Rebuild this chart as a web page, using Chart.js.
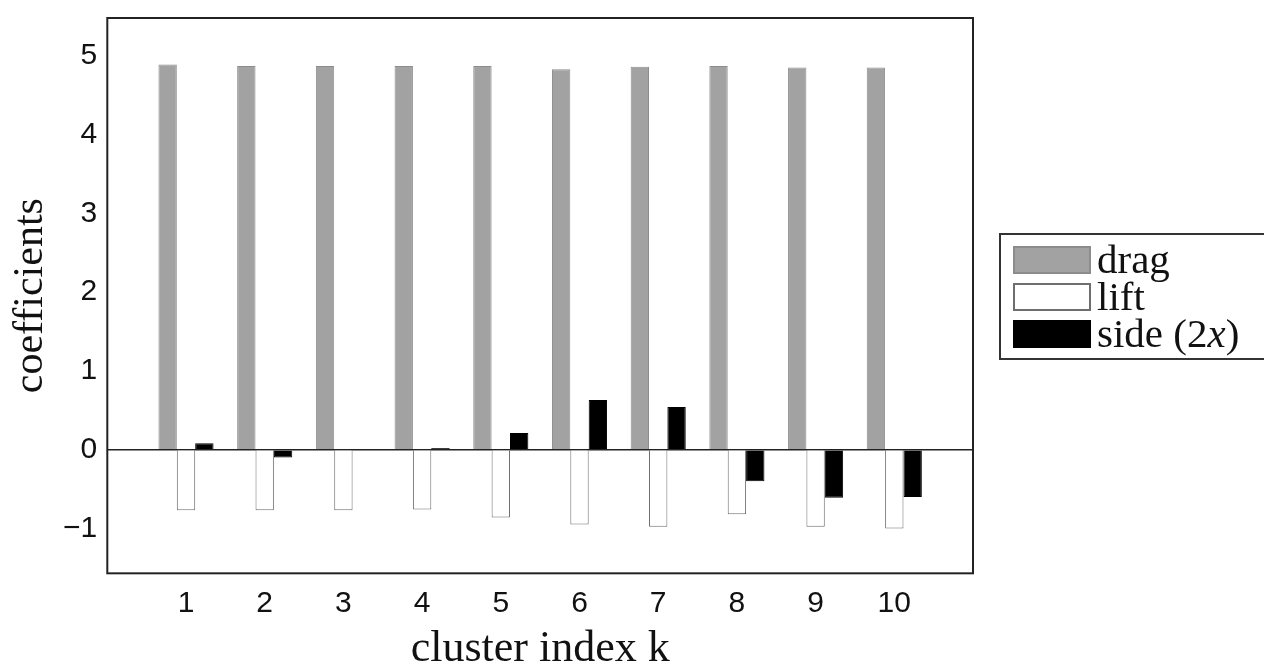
<!DOCTYPE html>
<html>
<head>
<meta charset="utf-8">
<script src="https://cdn.jsdelivr.net/npm/chart.js@4"></script>
<style>
    body { margin: 0; background: #fff; }
    #wrap { position: relative; width: 1264px; height: 662px; overflow: hidden; }
    #legend {
        position: absolute; left: 999px; top: 233px; width: 300px;
        border: 2px solid #333; padding: 6px 0 6px 12px; box-sizing: border-box;
        font-family: 'Liberation Serif', serif; font-size: 41px; line-height: 37px; color: #111;
    }
    .row { display: flex; align-items: flex-start; height: 37px; white-space: nowrap; }
    .sw { width: 78px; height: 28px; margin: 5px 6px 0 0; box-sizing: border-box; flex: none; }
</style>
</head>
<body>
<div id="wrap">
    <canvas id="barChart"></canvas>
    <div id="legend"></div>
</div>
<script>
// 数据
const clusters = [1, 2, 3, 4, 5, 6, 7, 8, 9, 10];
const drag = [4.89, 4.87, 4.87, 4.87, 4.87, 4.83, 4.86, 4.87, 4.85, 4.85];
const lift = [-0.77, -0.77, -0.77, -0.76, -0.86, -0.95, -0.98, -0.82, -0.98, -1.0];
const side = [0.08, -0.10, 0.0, 0.02, 0.21, 0.63, 0.54, -0.40, -0.61, -0.60];
const yTicks = [-1, 0, 1, 2, 3, 4, 5];

const seriesStyle = [
    { label: 'drag', data: drag, fill: '#a2a2a2', border: '#8c8c8c' },
    { label: 'lift', data: lift, fill: '#ffffff', border: '#6e6e6e' },
    { label: 'side (2<i>x</i>)', data: side, fill: '#000000', border: '#000000' }
];

// 外框
const frame = {
    id: 'frame',
    afterDraw(chart) {
        const { ctx, chartArea: a } = chart;
        ctx.save();
        ctx.strokeStyle = '#222';
        ctx.lineWidth = 2;
        ctx.strokeRect(a.left, a.top, a.right - a.left, a.bottom - a.top);
        ctx.restore();
    }
};

new Chart(document.getElementById('barChart'), {
    type: 'bar',
    data: {
        datasets: seriesStyle.map(s => ({
            label: s.label,
            data: clusters.map((k, i) => ({ x: k, y: s.data[i] })),
            backgroundColor: s.fill,
            borderColor: s.border,
            borderWidth: 1,
            categoryPercentage: 0.7,
            barPercentage: 1.0
        }))
    },
    options: {
        responsive: true,
        maintainAspectRatio: false,
        animation: false,
        layout: { padding: { left: 1, top: 18, right: 291, bottom: -3 } },
        plugins: { legend: { display: false }, tooltip: { enabled: false } },
        scales: {
            x: {
                type: 'linear',
                min: 0,
                max: 11,
                offset: false,
                afterBuildTicks: axis => {
                    axis.ticks = clusters.map(v => ({ value: v }));
                },
                ticks: {
                    color: '#111',
                    padding: 15,
                    font: { family: "'Liberation Sans', Arial, sans-serif", size: 30, lineHeight: 1.0 }
                },
                grid: { display: false, drawTicks: false },
                border: { display: false },
                title: {
                    display: true,
                    text: 'cluster index k',
                    color: '#111',
                    padding: { top: 0, bottom: 0 },
                    font: { family: "'Liberation Serif', serif", size: 44, lineHeight: 0.72 }
                }
            },
            y: {
                min: -1.57,
                max: 5.48,
                afterBuildTicks: axis => {
                    axis.ticks = yTicks.map(v => ({ value: v }));
                },
                ticks: {
                    color: '#111',
                    padding: 10,
                    font: { family: "'Liberation Sans', Arial, sans-serif", size: 30, lineHeight: 0.5 },
                    callback: v => (v < 0 ? '\u2212' + Math.abs(v) : String(v))
                },
                grid: {
                    drawTicks: false,
                    lineWidth: 1.5,
                    color: c => (c.tick && c.tick.value === 0 ? '#222' : 'rgba(0,0,0,0)')
                },
                border: { display: false },
                title: {
                    display: true,
                    text: 'coefficients',
                    color: '#111',
                    padding: { top: 8, bottom: 0 },
                    font: { family: "'Liberation Serif', serif", size: 42, lineHeight: 1.05 }
                }
            }
        }
    },
    plugins: [frame]
});

// 图例
const legendEl = document.getElementById('legend');
seriesStyle.forEach(s => {
    const row = document.createElement('div');
    row.className = 'row';
    const sw = document.createElement('div');
    sw.className = 'sw';
    sw.style.background = s.fill;
    sw.style.border = '2px solid ' + s.border;
    const txt = document.createElement('span');
    txt.innerHTML = s.label;
    row.appendChild(sw);
    row.appendChild(txt);
    legendEl.appendChild(row);
});
</script>
</body>
</html>
